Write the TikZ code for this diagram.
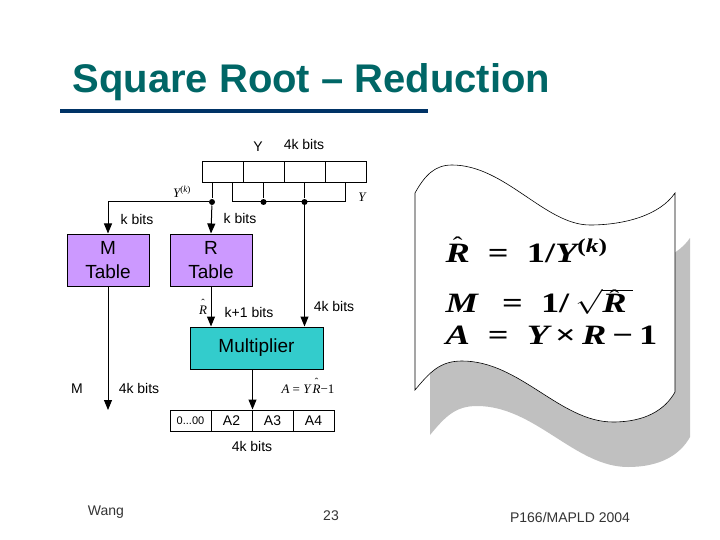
\documentclass[tikz,border=0pt]{standalone}
\usepackage{fontspec}
\setmainfont{Liberation Sans}
\newfontfamily\eqfont{Liberation Serif}
\usetikzlibrary{arrows.meta, positioning, calc}

\definecolor{titulo}{RGB}{0,102,102}
\definecolor{raya}{RGB}{0,51,102}
\definecolor{lila}{RGB}{204,153,255}
\definecolor{turquesa}{RGB}{51,204,204}
\definecolor{sombra}{RGB}{192,192,192}
\definecolor{pie}{RGB}{51,51,51}

% letra con sombrero encima
\newcommand{\sombrero}[2][0.35em]{\ooalign{#2\cr\hidewidth\raisebox{#1}{\upshape\mdseries\scalebox{0.8}{\char"02C6}}\hidewidth\cr}}
\newcommand{\ceros}{{\fontsize{11}{13}\selectfont 0...00}}

\tikzset{
  tabla/.style={draw, fill=lila, minimum width=82pt, minimum height=52pt, align=center, inner sep=0pt, font=\fontsize{19}{24}\selectfont},
  mult/.style={draw, fill=turquesa, minimum width=133pt, minimum height=42pt, inner sep=0pt, font=\fontsize{19}{23}\selectfont},
  celda/.style={draw, minimum width=41pt, minimum height=21pt, inner sep=0pt, font=\fontsize{14}{16}\selectfont},
  txt/.style={inner sep=0pt, font=\fontsize{14}{16}\selectfont},
  eq/.style={inner sep=0pt, font=\fontsize{13}{15}\selectfont\eqfont\itshape},
  formula/.style={anchor=base west, inner sep=0pt, font=\fontsize{28}{32}\selectfont\eqfont\bfseries\itshape},
  punto/.style={circle, fill, inner sep=0pt, minimum size=6pt},
  flecha/.style={-{Triangle[width=8pt,length=10pt]}},
}

\begin{document}
\begin{tikzpicture}[x=1pt, y=-1pt, line width=1pt]
    \useasboundingbox (0,0) rectangle (720,540);

    % titulo
    \node[anchor=base west, inner sep=0pt, text=titulo, font=\fontsize{40}{44}\selectfont\bfseries] (tit) at (72,93) {Square Root – Reduction};
    \draw[raya, line width=4pt] (60,111) -- (428,111);

    % registro Y
    \foreach \i in {1,...,4}
        \node[celda] (y\i) at ({202+41*(\i-0.5)},172.5) {};
    \node[txt] (ly) at (258,147) {Y};
    \node[txt] (lbits) at (304,144) {4k bits};

    % puntos de union
    \node[punto] (d1) at (212,202) {};
    \node[punto] (d2) at (y2.center |- d1) {};
    \node[punto] (d3) at (y3.center |- d1) {};
    \draw (y1.south -| d1) -- (d1);
    \draw (y2.south) -- (d2);
    \draw (y3.south) -- (d3);
    \draw ($(y1.south)+(10,0)$) |- (d1 -| y4.south) -- (y4.south);
    \node[eq] (lyk) at (182,192) {Y\textsuperscript{\upshape(\itshape k\upshape)}};
    \node[eq] (lyy) at (362,197) {Y};

    % tablas
    \node[tabla] (mt) at (108,260) {M\\Table};
    \node[tabla] (rt) at (211,260) {R\\Table};
    \draw[flecha] (d1) -| (mt.north);
    \draw[flecha] (d1) -- (rt.north);
    \node[txt] (lk1) at (137,219) {k bits};
    \node[txt] (lk2) at (240,218) {k bits};

    % multiplicador
    \node[mult] (mu) at (256.5,348) {Multiplier};
    \draw[flecha] (rt.south) -- (rt.south |- mu.north);
    \draw[flecha] (d3) -- (d3 |- mu.north);
    \node[eq] (lr) at (203,310) {\sombrero[0.6em]{R}};
    \node[txt] (lk3) at (249,312) {k+1 bits};
    \node[txt] (lk4) at (334,306) {4k bits};

    % registro A
    \foreach \t [count=\i] in {\ceros,A2,A3,A4}
        \node[celda] (a\i) at ({170+41*(\i-0.5)},420.5) {\t};
    \draw[flecha] (mu.south -| a2.north east) -- (a2.north east);
    \node[eq] (la) at (308,389) {A {\upshape=} Y\,\sombrero[0.6em]{R}{\upshape−1}};
    \node[txt] (lk5) at (252,446) {4k bits};

    % salida M
    \coordinate (mfin) at (108,410);
    \draw[flecha] (mt.south) -- (mfin);
    \node[txt] (lm) at (77,389) {M};
    \node[txt] (lk6) at (139,388) {4k bits};

    % hoja con formulas
    \def\hoja{(415,193) .. controls (425,175) and (435,165) .. (452,165)
        .. controls (505,165) and (545,225) .. (590,225)
        .. controls (625,225) and (660,215) .. (675,193)
        -- (675,392) .. controls (665,410) and (645,422) .. (613,422)
        .. controls (560,422) and (520,361) .. (462,361)
        .. controls (440,361) and (430,372) .. (415,390) -- cycle}
    \fill[sombra, shift={(15,45)}] \hoja;
    \draw[fill=white, line width=0.6pt] \hoja;
    \node[formula] (f1) at (445,262) {\scalebox{1.3}[1]{\sombrero{R}\enspace{\upshape=}\enspace{\upshape 1/}Y\textsuperscript{\upshape(\itshape k\upshape)}}};
    \node[formula] (f2) at (445,312) {\scalebox{1.3}[1]{M\enspace\,{\upshape=}\enspace{\upshape 1/}\,$\sqrt{\mbox{\sombrero[0.25em]{R}\,}}$}};
    \node[formula] (f3) at (445,344) {\scalebox{1.3}[1]{A\enspace{\upshape=}\enspace Y\,{\upshape×}\,R\,{\upshape−}\,{\upshape 1}}};

    % pie de pagina
    \node[txt, text=pie] (pw) at (106,512) {Wang};
    \node[txt, text=pie] (pn) at (331,516) {23};
    \node[txt, text=pie] (pp) at (570,517) {P166/MAPLD 2004};
\end{tikzpicture}
\end{document}
